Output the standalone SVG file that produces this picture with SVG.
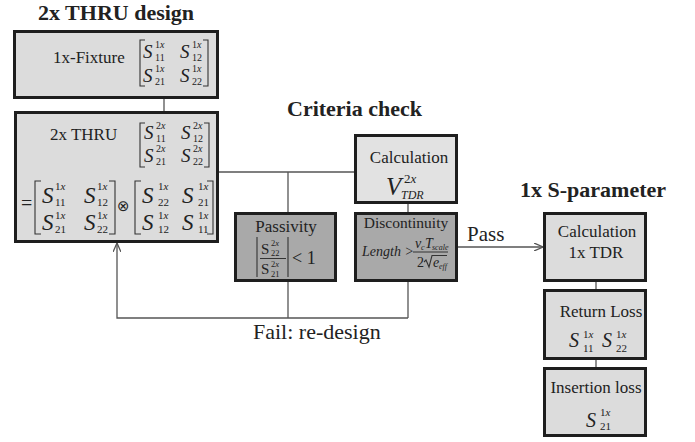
<svg xmlns="http://www.w3.org/2000/svg" width="695" height="442" viewBox="0 0 695 442">
<style>
text { font-family: "Liberation Serif", "Times New Roman", serif; fill: #222; }
.title { font-size: 22px; font-weight: bold; }
.lbl { font-size: 17px; }
.c { text-anchor: middle; }
.it { font-style: italic; }
.s19 { font-size: 19px; font-style: italic; }
.s23 { font-size: 23px; font-style: italic; }
.s20 { font-size: 20px; font-style: italic; }
.sm10 { font-size: 10px; }
.sm11 { font-size: 11px; }
.box { stroke: #1e1e1e; stroke-width: 3; }
.light { fill: #dcdcdc; }
.pale { fill: #e2e2e2; }
.dark { fill: #a9a9a9; }
.wire { fill: none; stroke: #555; stroke-width: 1.3; }
.brk { fill: none; stroke: #333; stroke-width: 1.1; }
</style>
<defs>
  <marker id="arr" viewBox="0 0 9 8" refX="9" refY="4" markerWidth="9" markerHeight="8" orient="auto" markerUnits="userSpaceOnUse">
    <path d="M0,0 L9,4 L0,8" fill="none" stroke="#555" stroke-width="1.3"/>
  </marker>
</defs>

<!-- section titles -->
<text class="title" x="38" y="20">2x THRU design</text>
<text class="title" x="287" y="116">Criteria check</text>
<text class="title" x="520" y="197">1x S-parameter</text>

<!-- connectors -->
<g id="connectors">
  <path class="wire" d="M164,99 V111"/>
  <path class="wire" d="M219,172 H355"/>
  <path class="wire" d="M288,172 V212"/>
  <path class="wire" d="M408,204 V212"/>
  <path class="wire" d="M288,282 V318"/>
  <path class="wire" d="M408,282 V318"/>
  <path class="wire" d="M408,318 H117 V243" marker-end="url(#arr)"/>
  <path class="wire" d="M458,247 H543" marker-end="url(#arr)"/>
  <path class="wire" d="M596,282 V289"/>
  <path class="wire" d="M596,360 V367"/>
  <text x="467" y="241" style="font-size:21px">Pass</text>
  <text x="253" y="339" style="font-size:22px">Fail: re-design</text>
</g>

<!-- 1x fixture -->
<g id="fixture">
  <rect class="box light" x="14.5" y="31.5" width="203" height="66"/>
  <text class="lbl" x="53" y="63">1x-Fixture</text>
  <path class="brk" d="M145,40 H140 V86 H145 M203,40 H208 V86 H203"/>
  <text class="s19" x="143" y="58">S</text><text class="sm10" x="155" y="48">1<tspan class="it">x</tspan></text><text class="sm10" x="155" y="61">11</text>
  <text class="s19" x="180" y="58">S</text><text class="sm10" x="192" y="48">1<tspan class="it">x</tspan></text><text class="sm10" x="192" y="61">12</text>
  <text class="s19" x="143" y="82">S</text><text class="sm10" x="155" y="72">1<tspan class="it">x</tspan></text><text class="sm10" x="155" y="85">21</text>
  <text class="s19" x="180" y="82">S</text><text class="sm10" x="192" y="72">1<tspan class="it">x</tspan></text><text class="sm10" x="192" y="85">22</text>
</g>

<!-- 2x thru -->
<g id="thru">
  <rect class="box light" x="15.5" y="112.5" width="202" height="129"/>
  <text class="lbl" x="50" y="140">2x THRU</text>
  <path class="brk" d="M145,123 H140 V167 H145 M204,123 H209 V167 H204"/>
  <text class="s19" x="144" y="139">S</text><text class="sm10" x="156" y="129">2<tspan class="it">x</tspan></text><text class="sm10" x="156" y="142">11</text>
  <text class="s19" x="181" y="139">S</text><text class="sm10" x="193" y="129">2<tspan class="it">x</tspan></text><text class="sm10" x="193" y="142">12</text>
  <text class="s19" x="144" y="162">S</text><text class="sm10" x="156" y="152">2<tspan class="it">x</tspan></text><text class="sm10" x="156" y="165">21</text>
  <text class="s19" x="181" y="162">S</text><text class="sm10" x="193" y="152">2<tspan class="it">x</tspan></text><text class="sm10" x="193" y="165">22</text>

  <text x="21" y="210" style="font-size:20px">=</text>
  <path class="brk" d="M41,181 H35 V234 H41 M109,181 H115 V234 H109"/>
  <text class="s23" x="42" y="203">S</text><text class="sm11" x="55" y="190">1<tspan class="it">x</tspan></text><text class="sm11" x="55" y="206">11</text>
  <text class="s23" x="84" y="203">S</text><text class="sm11" x="97" y="190">1<tspan class="it">x</tspan></text><text class="sm11" x="97" y="206">12</text>
  <text class="s23" x="42" y="230">S</text><text class="sm11" x="55" y="219">1<tspan class="it">x</tspan></text><text class="sm11" x="55" y="233">21</text>
  <text class="s23" x="84" y="230">S</text><text class="sm11" x="97" y="219">1<tspan class="it">x</tspan></text><text class="sm11" x="97" y="233">22</text>

  <text x="117" y="211" style="font-family:'DejaVu Sans',sans-serif;font-size:15px">⊗</text>

  <path class="brk" d="M141,181 H135 V234 H141 M207,181 H213 V234 H207"/>
  <text class="s23" x="142" y="203">S</text><text class="sm11" x="158" y="190">1<tspan class="it">x</tspan></text><text class="sm11" x="158" y="206">22</text>
  <text class="s23" x="182" y="203">S</text><text class="sm11" x="198" y="190">1<tspan class="it">x</tspan></text><text class="sm11" x="198" y="206">21</text>
  <text class="s23" x="142" y="230">S</text><text class="sm11" x="158" y="219">1<tspan class="it">x</tspan></text><text class="sm11" x="158" y="233">12</text>
  <text class="s23" x="182" y="230">S</text><text class="sm11" x="198" y="219">1<tspan class="it">x</tspan></text><text class="sm11" x="198" y="233">11</text>
</g>

<!-- criteria: TDR calculation -->
<g id="calc-tdr">
  <rect class="box pale" x="355.5" y="135.5" width="101" height="67"/>
  <text class="lbl c" x="409" y="163">Calculation</text>
  <text class="it" x="386" y="195" style="font-size:25px">V</text>
  <text x="404" y="183" style="font-size:13px">2<tspan class="it">x</tspan></text>
  <text class="it" x="401" y="199" style="font-size:12px">TDR</text>
</g>

<!-- criteria: passivity -->
<g id="passivity">
  <rect class="box dark" x="235.5" y="213.5" width="100" height="67"/>
  <text class="lbl c" x="286" y="232">Passivity</text>
  <path class="brk" d="M257,237 V277 M288,237 V277 M260,258.5 H286"/>
  <text x="261" y="254" style="font-size:15px">S</text><text x="271" y="246" style="font-size:8.5px">2<tspan class="it">x</tspan></text><text x="271" y="256" style="font-size:8.5px">22</text>
  <text x="261" y="274" style="font-size:15px">S</text><text x="271" y="267" style="font-size:8.5px">2<tspan class="it">x</tspan></text><text x="271" y="277" style="font-size:8.5px">21</text>
  <text x="292" y="264" style="font-size:18px">&lt; 1</text>
</g>

<!-- criteria: discontinuity -->
<g id="discontinuity">
  <rect class="box dark" x="355.5" y="213.5" width="101" height="67"/>
  <text class="c" x="406" y="228" style="font-size:15.5px">Discontinuity</text>
  <text class="it" x="362" y="256" style="font-size:14px">Length &gt;</text>
  <text class="it" x="415" y="248" style="font-size:14px">v</text>
  <text class="it" x="421" y="250" style="font-size:8px">c</text>
  <text class="it" x="425" y="248" style="font-size:14px">T</text>
  <text class="it" x="432" y="250" style="font-size:8px">scale</text>
  <path class="brk" d="M413,252 H448"/>
  <text x="417" y="267" style="font-size:14px">2</text>
  <path class="brk" d="M424,262 L426,260 L429,267 L432,255.5 H447"/>
  <text class="it" x="433" y="267" style="font-size:14px">e</text>
  <text class="it" x="439" y="269" style="font-size:8px">eff</text>
</g>

<!-- 1x: TDR calculation -->
<g id="calc-1x">
  <rect class="box light" x="544.5" y="213.5" width="101" height="67"/>
  <text class="lbl c" x="597" y="237">Calculation</text>
  <text class="lbl c" x="596" y="258">1x TDR</text>
</g>

<!-- 1x: return loss -->
<g id="return-loss">
  <rect class="box light" x="544.5" y="290.5" width="101" height="68"/>
  <text class="lbl c" x="601" y="317">Return Loss</text>
  <text class="s20" x="569" y="347">S</text><text class="sm11" x="583" y="338">1<tspan class="it">x</tspan></text><text class="sm11" x="583" y="352">11</text>
  <text class="s20" x="602" y="347">S</text><text class="sm11" x="616" y="338">1<tspan class="it">x</tspan></text><text class="sm11" x="616" y="352">22</text>
</g>

<!-- 1x: insertion loss -->
<g id="insertion-loss">
  <rect class="box light" x="544.5" y="368.5" width="101" height="67"/>
  <text class="lbl c" x="596" y="393">Insertion loss</text>
  <text class="s20" x="586" y="427">S</text><text class="sm11" x="600" y="416">1<tspan class="it">x</tspan></text><text class="sm11" x="600" y="430">21</text>
</g>
</svg>
